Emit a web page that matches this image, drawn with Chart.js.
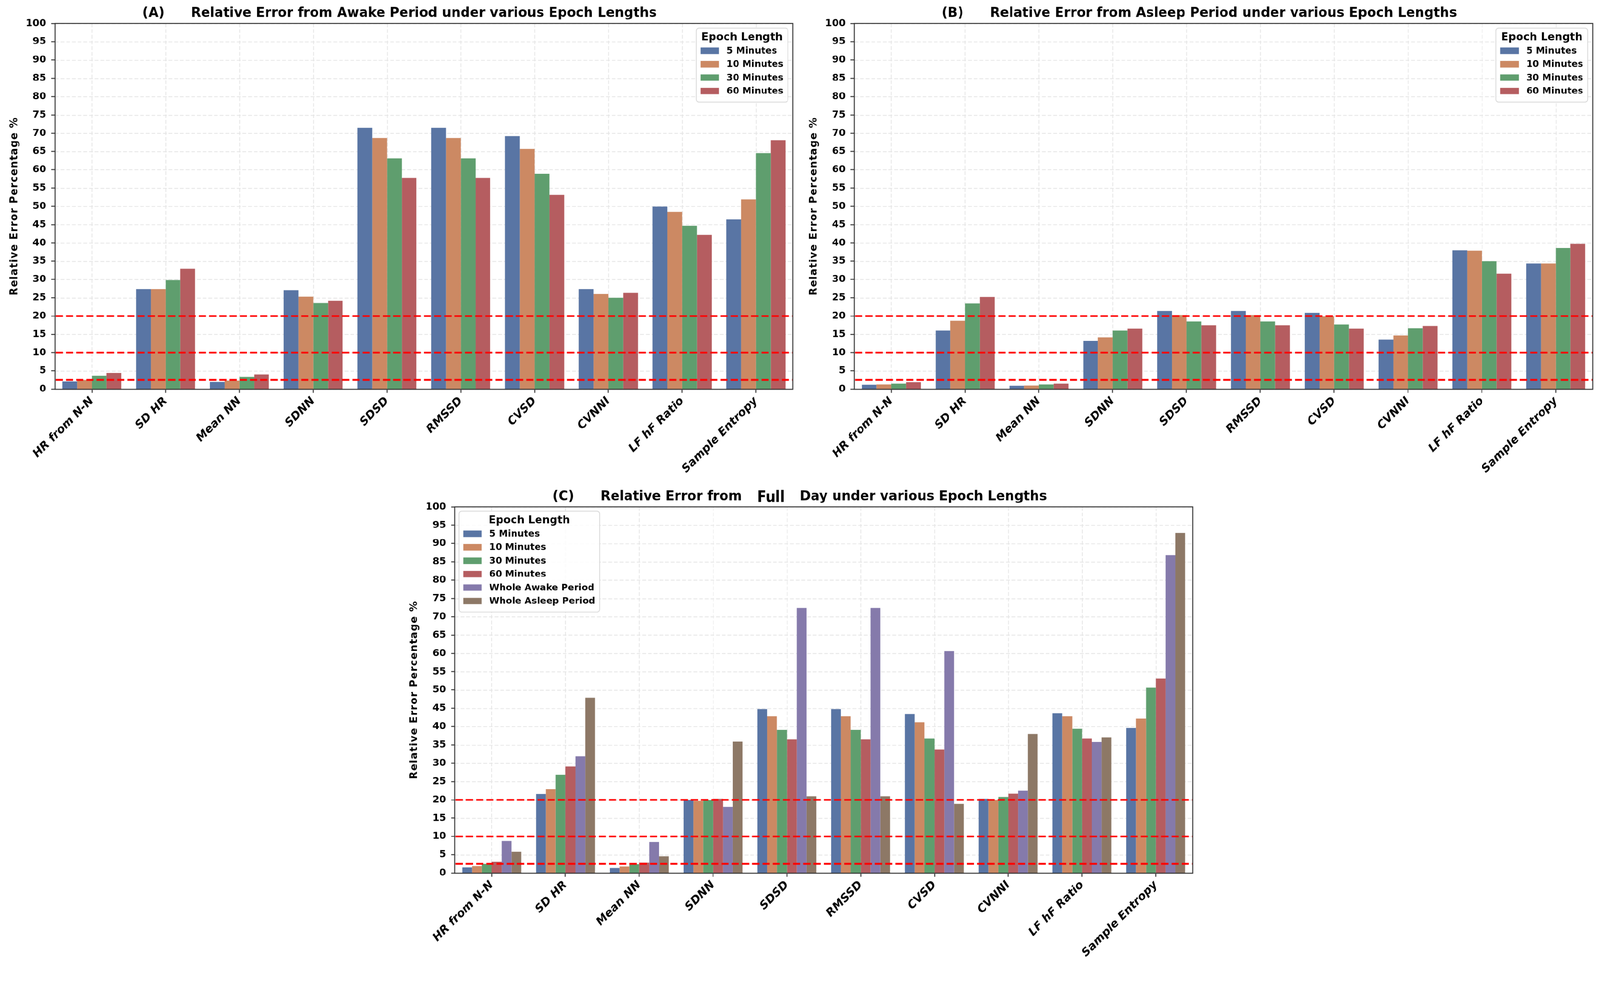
<!DOCTYPE html>
<html>
<head>
<meta charset="utf-8">
<script src="https://cdn.jsdelivr.net/npm/chart.js@4.4.1/dist/chart.umd.min.js"></script>
<style>
  html, body { margin:0; padding:0; background:#ffffff; overflow:hidden; }
  #wrap { position:absolute; left:0; top:0; width:4225px; height:2543px; transform-origin:0 0; background:#fff; }
  canvas { position:absolute; }
</style>
</head>
<body>
<div id="wrap">
<canvas id="cA" style="left:0px;top:0px;width:2111px;height:1277px"></canvas>
<canvas id="cB" style="left:2111px;top:0px;width:2114px;height:1277px"></canvas>
<canvas id="cC" style="left:1056px;top:1277px;width:2150px;height:1266px"></canvas>
</div>
<script>
// ---------------- DATA ----------------
const categories = ['HR from N-N','SD HR','Mean NN','SDNN','SDSD','RMSSD','CVSD','CVNNI','LF hF Ratio','Sample Entropy'];
const epochLabels = ['5 Minutes','10 Minutes','30 Minutes','60 Minutes'];
const wholeLabels = ['Whole Awake Period','Whole Asleep Period'];

const yAxisMin = 0;
const yAxisMax = 100;
const yAxisStep = 5;
const thresholdLines = [20, 10, 2.5];

// (A) Awake period
const awake5  = [2.1, 27.4, 1.96, 27.1, 71.5, 71.5, 69.2, 27.4, 49.9, 46.4];
const awake10 = [2.5, 27.4, 2.3, 25.3, 68.7, 68.7, 65.7, 26.0, 48.5, 51.9];
const awake30 = [3.7, 29.8, 3.4, 23.6, 63.1, 63.1, 58.9, 25.0, 44.7, 64.6];
const awake60 = [4.45, 32.9, 4.05, 24.2, 57.8, 57.8, 53.1, 26.3, 42.2, 68.1];

// (B) Asleep period
const asleep5  = [1.2, 16.0, 0.95, 13.2, 21.4, 21.4, 20.9, 13.6, 38.0, 34.4];
const asleep10 = [1.3, 18.7, 1.0, 14.2, 20.3, 20.3, 19.9, 14.7, 37.9, 34.4];
const asleep30 = [1.5, 23.5, 1.3, 16.0, 18.5, 18.5, 17.7, 16.7, 35.0, 38.6];
const asleep60 = [1.9, 25.2, 1.5, 16.5, 17.5, 17.5, 16.5, 17.3, 31.6, 39.7];

// (C) Full day
const full5      = [1.56, 21.6, 1.4, 19.9, 44.8, 44.8, 43.4, 20.3, 43.6, 39.6];
const full10     = [1.9, 22.9, 1.8, 19.7, 42.8, 42.8, 41.2, 19.9, 42.8, 42.2];
const full30     = [2.5, 26.8, 2.4, 19.9, 39.1, 39.1, 36.7, 20.8, 39.4, 50.7];
const full60     = [3.1, 29.1, 2.8, 20.3, 36.5, 36.5, 33.8, 21.7, 36.7, 53.1];
const fullAwake  = [8.75, 31.9, 8.5, 18.1, 72.4, 72.4, 60.6, 22.5, 35.8, 86.8];
const fullAsleep = [5.8, 47.9, 4.6, 35.9, 21.0, 21.0, 18.9, 38.0, 37.1, 92.9];

// ---------------- STYLE ----------------
const palette = ['#5975A4', '#CC8963', '#5F9E6E', '#B55D60', '#857AAB', '#8D7866'];
const FAM = '"DejaVu Sans", "Liberation Sans", sans-serif';

Chart.defaults.font.family = FAM;
Chart.defaults.color = '#000';

// fit the 4225x2543 layout into the actual viewport
const pageScale = Math.min(window.innerWidth / 4225, window.innerHeight / 2543) || 1;
document.getElementById('wrap').style.transform = 'scale(' + pageScale + ')';
const renderRatio = (window.devicePixelRatio || 1) * pageScale;

const deco = {
  id: 'deco',
  beforeDatasetsDraw(chart, args, o) {
    const {ctx, chartArea: a, scales: {x, y}} = chart;
    ctx.save();
    ctx.strokeStyle = '#e4e4e4';
    ctx.lineWidth = 2;
    ctx.setLineDash([10, 5]);
    y.ticks.forEach(t => {
      const py = Math.round(y.getPixelForValue(t.value)) + 0.5;
      ctx.beginPath(); ctx.moveTo(a.left, py); ctx.lineTo(a.right, py); ctx.stroke();
    });
    x.ticks.forEach((t, i) => {
      const px = Math.round(x.getPixelForTick(i)) + 0.5;
      ctx.beginPath(); ctx.moveTo(px, a.top); ctx.lineTo(px, a.bottom); ctx.stroke();
    });
    ctx.restore();
  },
  afterDatasetsDraw(chart, args, o) {
    const {ctx, chartArea: a, scales: {y}} = chart;
    ctx.save();
    ctx.beginPath(); ctx.rect(a.left, a.top, a.right - a.left, a.bottom - a.top); ctx.clip();
    ctx.strokeStyle = '#ff0000';
    ctx.lineWidth = 5;
    ctx.setLineDash([19, 8]);
    (o.thresholds || []).forEach(v => {
      const py = y.getPixelForValue(v);
      ctx.beginPath(); ctx.moveTo(a.left + 2, py); ctx.lineTo(a.right, py); ctx.stroke();
    });
    ctx.restore();
    ctx.save();
    ctx.strokeStyle = '#333333';
    ctx.lineWidth = 2.5;
    ctx.strokeRect(a.left, a.top, a.right - a.left, a.bottom - a.top);
    ctx.restore();
  },
  afterDraw(chart, args, o) {
    const {ctx, chartArea: a} = chart;
    ctx.save();
    // ---- title ----
    const base = a.top - 18;
    const cx = (a.left + a.right) / 2;
    const mainFont = 'bold 34.5px ' + FAM;
    const specFont = 'bold 40px "DejaVu Sans Condensed", ' + FAM;
    ctx.fillStyle = '#000';
    ctx.textBaseline = 'alphabetic';
    const parts = o.titleParts;
    const gap = 40;
    const widths = parts.map(p => { ctx.font = p.special ? specFont : mainFont; return ctx.measureText(p.text).width; });
    const total = widths.reduce((s, w) => s + w, 0) + gap * (parts.length - 1);
    let xs = cx - total / 2;
    const titleStart = xs;
    parts.forEach((p, i) => {
      ctx.font = p.special ? specFont : mainFont;
      ctx.textAlign = 'left';
      ctx.fillText(p.text, xs, base + (p.special ? 4 : 0));
      xs += widths[i] + gap;
    });
    ctx.font = mainFont;
    ctx.textAlign = 'right';
    ctx.fillText(o.tag, titleStart - 70, base);

    // ---- y axis title ----
    ctx.save();
    ctx.translate(a.left - 107, (a.top + a.bottom) / 2);
    ctx.rotate(-Math.PI / 2);
    ctx.font = 'bold 27px ' + FAM;
    try { ctx.letterSpacing = '1.5px'; } catch (e) {}
    ctx.textAlign = 'center';
    ctx.textBaseline = 'middle';
    ctx.fillText(o.yTitle, 0, 0);
    ctx.restore();

    // ---- legend ----
    const L = o.legend;
    const ds = chart.data.datasets;
    const bw = L.width, bh = 60 + (ds.length - 1) * 35.5 + 29;
    const bx = L.side === 'right' ? a.right - 13 - bw : a.left + 11;
    const by = a.top + (L.side === 'right' ? 12 : 11);
    ctx.beginPath();
    ctx.roundRect(bx, by, bw, bh, 7);
    ctx.fillStyle = 'rgba(255,255,255,0.85)';
    ctx.fill();
    ctx.strokeStyle = '#d6d6d6';
    ctx.lineWidth = 2;
    ctx.stroke();
    ctx.fillStyle = '#000';
    ctx.font = 'bold 28px ' + FAM;
    ctx.textAlign = 'center';
    ctx.textBaseline = 'alphabetic';
    ctx.fillText(L.title, bx + bw / 2, by + 32);
    ctx.font = 'bold 24px ' + FAM;
    ctx.textAlign = 'left';
    ctx.textBaseline = 'middle';
    ds.forEach((d, i) => {
      const ry = by + 60 + i * 35.5;
      ctx.fillStyle = d.backgroundColor;
      ctx.fillRect(bx + 11, ry - 8.5, 49, 17);
      ctx.fillStyle = '#000';
      ctx.fillText(d.label, bx + 80, ry + 1);
    });
    ctx.restore();
  }
};

function makeScales(xAxisH) {
  return {
    x: {
      type: 'category',
      offset: true,
      grid: { display: true, drawOnChartArea: false, drawTicks: true, tickLength: 10, tickColor: '#333', tickWidth: 2.5, offset: false },
      border: { display: false },
      ticks: { autoSkip: false, maxRotation: 45, minRotation: 45, padding: 4, color: '#000',
               font: { family: FAM, size: 30, weight: 'bold', style: 'italic' } },
      afterFit(s) { s.height = xAxisH; }
    },
    y: {
      min: yAxisMin, max: yAxisMax,
      grid: { display: true, drawOnChartArea: false, drawTicks: true, tickLength: 10, tickColor: '#333', tickWidth: 2.5 },
      border: { display: false },
      ticks: { stepSize: yAxisStep, autoSkip: false, padding: 13, color: '#000',
               font: { family: FAM, size: 26, weight: 'bold' } },
      afterFit(s) { s.width = 145; }
    }
  };
}

function makeChart(id, series, labels, decoOpts, padRight, xAxisH) {
  const cv = document.getElementById(id);
  cv.width = parseFloat(cv.style.width);
  cv.height = parseFloat(cv.style.height);
  const datasets = series.map((vals, i) => ({
    label: labels[i],
    data: vals,
    backgroundColor: palette[i],
    borderWidth: 0,
    categoryPercentage: 0.8,
    barPercentage: 1.0
  }));
  return new Chart(cv, {
    type: 'bar',
    data: { labels: categories, datasets },
    options: {
      responsive: false,
      animation: false,
      devicePixelRatio: renderRatio,
      layout: { padding: { left: 0, right: padRight, top: 62, bottom: 0 } },
      plugins: { legend: { display: false }, tooltip: { enabled: false }, title: { display: false }, deco: decoOpts },
      scales: makeScales(xAxisH)
    },
    plugins: [deco]
  });
}

makeChart('cA', [awake5, awake10, awake30, awake60], epochLabels, {
  tag: '(A)',
  titleParts: [{ text: 'Relative Error from Awake Period under various Epoch Lengths' }],
  yTitle: 'Relative Error Percentage %',
  thresholds: thresholdLines,
  legend: { title: 'Epoch Length', side: 'right', width: 242 }
}, 18, 249);

makeChart('cB', [asleep5, asleep10, asleep30, asleep60], epochLabels, {
  tag: '(B)',
  titleParts: [{ text: 'Relative Error from Asleep Period under various Epoch Lengths' }],
  yTitle: 'Relative Error Percentage %',
  thresholds: thresholdLines,
  legend: { title: 'Epoch Length', side: 'right', width: 242 }
}, 20, 249);

makeChart('cC', [full5, full10, full30, full60, fullAwake, fullAsleep], epochLabels.concat(wholeLabels), {
  tag: '(C)',
  titleParts: [{ text: 'Relative Error from' }, { text: 'Full', special: true }, { text: 'Day under various Epoch Lengths' }],
  yTitle: 'Relative Error Percentage %',
  thresholds: thresholdLines,
  legend: { title: 'Epoch Length', side: 'left', width: 371 }
}, 57, 237);
</script>
</body>
</html>
